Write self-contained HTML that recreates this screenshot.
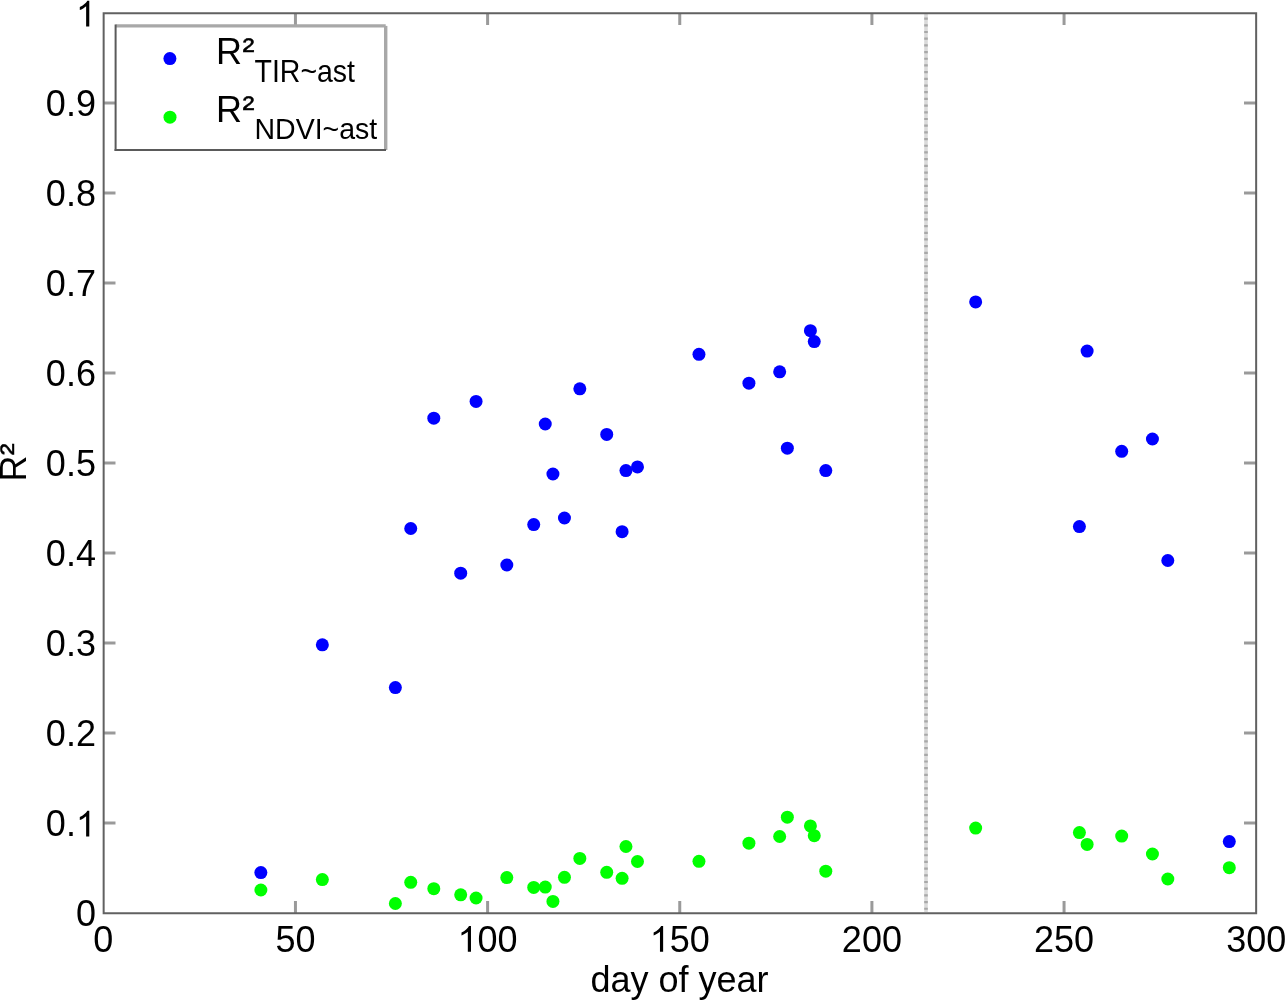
<!DOCTYPE html>
<html><head><meta charset="utf-8"><title>R2 vs day of year</title>
<style>html,body{margin:0;padding:0;background:#fff;overflow:hidden}svg{display:block;will-change:transform;filter:blur(0.4px)}text{font-family:"Liberation Sans",sans-serif}</style>
</head><body>
<svg width="1286" height="1000" viewBox="0 0 1286 1000">
<rect width="1286" height="1000" fill="#fff"/>
<line x1="926.0" y1="14.0" x2="926.0" y2="912.0" stroke="#dadada" stroke-width="3.6"/>
<line x1="926.0" y1="14.0" x2="926.0" y2="912.0" stroke="#a8a8a8" stroke-width="3.6" stroke-dasharray="2.2 4.493" stroke-dashoffset="3.193"/>
<line x1="295.45" y1="913.0" x2="295.45" y2="901.0" stroke="#9a9a9a" stroke-width="3"/>
<line x1="295.45" y1="13.0" x2="295.45" y2="25.0" stroke="#9a9a9a" stroke-width="3"/>
<line x1="487.60" y1="913.0" x2="487.60" y2="901.0" stroke="#9a9a9a" stroke-width="3"/>
<line x1="487.60" y1="13.0" x2="487.60" y2="25.0" stroke="#9a9a9a" stroke-width="3"/>
<line x1="679.75" y1="913.0" x2="679.75" y2="901.0" stroke="#9a9a9a" stroke-width="3"/>
<line x1="679.75" y1="13.0" x2="679.75" y2="25.0" stroke="#9a9a9a" stroke-width="3"/>
<line x1="871.90" y1="913.0" x2="871.90" y2="901.0" stroke="#9a9a9a" stroke-width="3"/>
<line x1="871.90" y1="13.0" x2="871.90" y2="25.0" stroke="#9a9a9a" stroke-width="3"/>
<line x1="1064.05" y1="913.0" x2="1064.05" y2="901.0" stroke="#9a9a9a" stroke-width="3"/>
<line x1="1064.05" y1="13.0" x2="1064.05" y2="25.0" stroke="#9a9a9a" stroke-width="3"/>
<line x1="103.5" y1="823.00" x2="115.5" y2="823.00" stroke="#9a9a9a" stroke-width="3"/>
<line x1="1256.0" y1="823.00" x2="1244.0" y2="823.00" stroke="#9a9a9a" stroke-width="3"/>
<line x1="103.5" y1="733.00" x2="115.5" y2="733.00" stroke="#9a9a9a" stroke-width="3"/>
<line x1="1256.0" y1="733.00" x2="1244.0" y2="733.00" stroke="#9a9a9a" stroke-width="3"/>
<line x1="103.5" y1="643.00" x2="115.5" y2="643.00" stroke="#9a9a9a" stroke-width="3"/>
<line x1="1256.0" y1="643.00" x2="1244.0" y2="643.00" stroke="#9a9a9a" stroke-width="3"/>
<line x1="103.5" y1="553.00" x2="115.5" y2="553.00" stroke="#9a9a9a" stroke-width="3"/>
<line x1="1256.0" y1="553.00" x2="1244.0" y2="553.00" stroke="#9a9a9a" stroke-width="3"/>
<line x1="103.5" y1="463.00" x2="115.5" y2="463.00" stroke="#9a9a9a" stroke-width="3"/>
<line x1="1256.0" y1="463.00" x2="1244.0" y2="463.00" stroke="#9a9a9a" stroke-width="3"/>
<line x1="103.5" y1="373.00" x2="115.5" y2="373.00" stroke="#9a9a9a" stroke-width="3"/>
<line x1="1256.0" y1="373.00" x2="1244.0" y2="373.00" stroke="#9a9a9a" stroke-width="3"/>
<line x1="103.5" y1="283.00" x2="115.5" y2="283.00" stroke="#9a9a9a" stroke-width="3"/>
<line x1="1256.0" y1="283.00" x2="1244.0" y2="283.00" stroke="#9a9a9a" stroke-width="3"/>
<line x1="103.5" y1="193.00" x2="115.5" y2="193.00" stroke="#9a9a9a" stroke-width="3"/>
<line x1="1256.0" y1="193.00" x2="1244.0" y2="193.00" stroke="#9a9a9a" stroke-width="3"/>
<line x1="103.5" y1="103.00" x2="115.5" y2="103.00" stroke="#9a9a9a" stroke-width="3"/>
<line x1="1256.0" y1="103.00" x2="1244.0" y2="103.00" stroke="#9a9a9a" stroke-width="3"/>
<path d="M103.65 13.2 H1256.15 V913.15 H103.65 Z" fill="none" stroke="#616161" stroke-width="2"/>
<circle cx="260.86" cy="872.6" r="6.5" fill="#0000ff"/>
<circle cx="322.35" cy="644.8" r="6.5" fill="#0000ff"/>
<circle cx="395.37" cy="687.6" r="6.5" fill="#0000ff"/>
<circle cx="410.74" cy="528.5" r="6.5" fill="#0000ff"/>
<circle cx="433.80" cy="418.2" r="6.5" fill="#0000ff"/>
<circle cx="460.70" cy="573.2" r="6.5" fill="#0000ff"/>
<circle cx="476.07" cy="401.4" r="6.5" fill="#0000ff"/>
<circle cx="506.81" cy="565" r="6.5" fill="#0000ff"/>
<circle cx="533.72" cy="524.6" r="6.5" fill="#0000ff"/>
<circle cx="545.25" cy="424" r="6.5" fill="#0000ff"/>
<circle cx="552.93" cy="474" r="6.5" fill="#0000ff"/>
<circle cx="564.46" cy="518" r="6.5" fill="#0000ff"/>
<circle cx="579.83" cy="388.8" r="6.5" fill="#0000ff"/>
<circle cx="606.73" cy="434.4" r="6.5" fill="#0000ff"/>
<circle cx="622.10" cy="531.7" r="6.5" fill="#0000ff"/>
<circle cx="625.95" cy="470.6" r="6.5" fill="#0000ff"/>
<circle cx="637.48" cy="466.9" r="6.5" fill="#0000ff"/>
<circle cx="698.96" cy="354.3" r="6.5" fill="#0000ff"/>
<circle cx="748.92" cy="383.2" r="6.5" fill="#0000ff"/>
<circle cx="779.67" cy="371.8" r="6.5" fill="#0000ff"/>
<circle cx="787.35" cy="448.2" r="6.5" fill="#0000ff"/>
<circle cx="810.41" cy="330.7" r="6.5" fill="#0000ff"/>
<circle cx="814.25" cy="341.6" r="6.5" fill="#0000ff"/>
<circle cx="825.78" cy="470.6" r="6.5" fill="#0000ff"/>
<circle cx="975.66" cy="301.9" r="6.5" fill="#0000ff"/>
<circle cx="1079.42" cy="526.6" r="6.5" fill="#0000ff"/>
<circle cx="1087.11" cy="351.1" r="6.5" fill="#0000ff"/>
<circle cx="1121.69" cy="451.3" r="6.5" fill="#0000ff"/>
<circle cx="1152.44" cy="439" r="6.5" fill="#0000ff"/>
<circle cx="1167.81" cy="560.5" r="6.5" fill="#0000ff"/>
<circle cx="1229.30" cy="841.6" r="6.5" fill="#0000ff"/>
<circle cx="260.86" cy="890" r="6.5" fill="#00ff00"/>
<circle cx="322.35" cy="879.6" r="6.5" fill="#00ff00"/>
<circle cx="395.37" cy="903.5" r="6.5" fill="#00ff00"/>
<circle cx="410.74" cy="882.3" r="6.5" fill="#00ff00"/>
<circle cx="433.80" cy="888.7" r="6.5" fill="#00ff00"/>
<circle cx="460.70" cy="894.8" r="6.5" fill="#00ff00"/>
<circle cx="476.07" cy="898" r="6.5" fill="#00ff00"/>
<circle cx="506.81" cy="877.6" r="6.5" fill="#00ff00"/>
<circle cx="533.72" cy="887.4" r="6.5" fill="#00ff00"/>
<circle cx="545.25" cy="887.1" r="6.5" fill="#00ff00"/>
<circle cx="552.93" cy="901.4" r="6.5" fill="#00ff00"/>
<circle cx="564.46" cy="877.3" r="6.5" fill="#00ff00"/>
<circle cx="579.83" cy="858.4" r="6.5" fill="#00ff00"/>
<circle cx="606.73" cy="872.3" r="6.5" fill="#00ff00"/>
<circle cx="622.10" cy="878.3" r="6.5" fill="#00ff00"/>
<circle cx="625.95" cy="846.5" r="6.5" fill="#00ff00"/>
<circle cx="637.48" cy="861.5" r="6.5" fill="#00ff00"/>
<circle cx="698.96" cy="861.3" r="6.5" fill="#00ff00"/>
<circle cx="748.92" cy="843.2" r="6.5" fill="#00ff00"/>
<circle cx="779.67" cy="836.5" r="6.5" fill="#00ff00"/>
<circle cx="787.35" cy="817.2" r="6.5" fill="#00ff00"/>
<circle cx="810.41" cy="825.9" r="6.5" fill="#00ff00"/>
<circle cx="814.25" cy="835.7" r="6.5" fill="#00ff00"/>
<circle cx="825.78" cy="871.2" r="6.5" fill="#00ff00"/>
<circle cx="975.66" cy="828.1" r="6.5" fill="#00ff00"/>
<circle cx="1079.42" cy="832.6" r="6.5" fill="#00ff00"/>
<circle cx="1087.11" cy="844.4" r="6.5" fill="#00ff00"/>
<circle cx="1121.69" cy="836.1" r="6.5" fill="#00ff00"/>
<circle cx="1152.44" cy="854" r="6.5" fill="#00ff00"/>
<circle cx="1167.81" cy="879" r="6.5" fill="#00ff00"/>
<circle cx="1229.30" cy="867.7" r="6.5" fill="#00ff00"/>
<g font-family="Liberation Sans, sans-serif" font-size="36" fill="#000">
<text x="75.88" y="926.40">0</text>
<text x="45.86" y="836.40">0</text><text x="65.88" y="836.40">.</text><path d="M763 0L583 0L583 1147Q518 1085 415 1024Q312 963 223 930L223 1104Q374 1175 486.5 1275.5Q599 1376 651 1466L763 1466Z" transform="translate(75.88,836.40) scale(0.017578,-0.017578)"/>
<text x="45.86" y="746.40">0</text><text x="65.88" y="746.40">.</text><text x="75.88" y="746.40">2</text>
<text x="45.86" y="656.40">0</text><text x="65.88" y="656.40">.</text><text x="75.88" y="656.40">3</text>
<text x="45.86" y="566.40">0</text><text x="65.88" y="566.40">.</text><text x="75.88" y="566.40">4</text>
<text x="45.86" y="476.40">0</text><text x="65.88" y="476.40">.</text><text x="75.88" y="476.40">5</text>
<text x="45.86" y="386.40">0</text><text x="65.88" y="386.40">.</text><text x="75.88" y="386.40">6</text>
<text x="45.86" y="296.40">0</text><text x="65.88" y="296.40">.</text><text x="75.88" y="296.40">7</text>
<text x="45.86" y="206.40">0</text><text x="65.88" y="206.40">.</text><text x="75.88" y="206.40">8</text>
<text x="45.86" y="116.40">0</text><text x="65.88" y="116.40">.</text><text x="75.88" y="116.40">9</text>
<path d="M763 0L583 0L583 1147Q518 1085 415 1024Q312 963 223 930L223 1104Q374 1175 486.5 1275.5Q599 1376 651 1466L763 1466Z" transform="translate(75.88,26.40) scale(0.017578,-0.017578)"/>
<text x="93.29" y="951.80">0</text>
<text x="275.43" y="951.80">5</text><text x="295.45" y="951.80">0</text>
<path d="M763 0L583 0L583 1147Q518 1085 415 1024Q312 963 223 930L223 1104Q374 1175 486.5 1275.5Q599 1376 651 1466L763 1466Z" transform="translate(457.57,951.80) scale(0.017578,-0.017578)"/><text x="477.59" y="951.80">0</text><text x="497.61" y="951.80">0</text>
<path d="M763 0L583 0L583 1147Q518 1085 415 1024Q312 963 223 930L223 1104Q374 1175 486.5 1275.5Q599 1376 651 1466L763 1466Z" transform="translate(649.72,951.80) scale(0.017578,-0.017578)"/><text x="669.74" y="951.80">5</text><text x="689.76" y="951.80">0</text>
<text x="841.87" y="951.80">2</text><text x="861.89" y="951.80">0</text><text x="881.91" y="951.80">0</text>
<text x="1034.02" y="951.80">2</text><text x="1054.04" y="951.80">5</text><text x="1074.06" y="951.80">0</text>
<text x="1226.17" y="951.80">3</text><text x="1246.19" y="951.80">0</text><text x="1266.21" y="951.80">0</text>
<text x="679.5" y="991.8" text-anchor="middle">day of year</text>
<g transform="translate(26.2,481.5) rotate(-90)"><text x="0" y="0">R</text><text transform="translate(26.3,-3.0) scale(1,0.9)" stroke="#000" stroke-width="0.5">²</text></g>
<rect x="115.6" y="25.9" width="270.1" height="124.1" fill="#fff" stroke="none"/>
<line x1="115.6" y1="25.9" x2="385.7" y2="25.9" stroke="#a8a8a8" stroke-width="3.4"/>
<line x1="385.7" y1="25.9" x2="385.7" y2="150" stroke="#a8a8a8" stroke-width="3.4"/>
<line x1="115.6" y1="24.5" x2="115.6" y2="151" stroke="#5a5a5a" stroke-width="2"/>
<line x1="114.6" y1="150" x2="386" y2="150" stroke="#5a5a5a" stroke-width="2"/>
<circle cx="169.9" cy="58.6" r="6.5" fill="#0000ff"/>
<circle cx="170" cy="117.2" r="6.5" fill="#00ff00"/>
<text x="216.1" y="63.8">R</text>
<text transform="translate(242.4,60.80) scale(1,0.9)" stroke="#000" stroke-width="0.5">²</text>
<text transform="translate(254.5,81.5) scale(1,1.07)" font-size="28.5">TIR~ast</text>
<text x="216.1" y="121.7">R</text>
<text transform="translate(242.4,118.70) scale(1,0.9)" stroke="#000" stroke-width="0.5">²</text>
<text transform="translate(254.5,139.0) scale(1,1.03)" font-size="28.5">NDVI~ast</text>
</g>
</svg>
</body></html>
